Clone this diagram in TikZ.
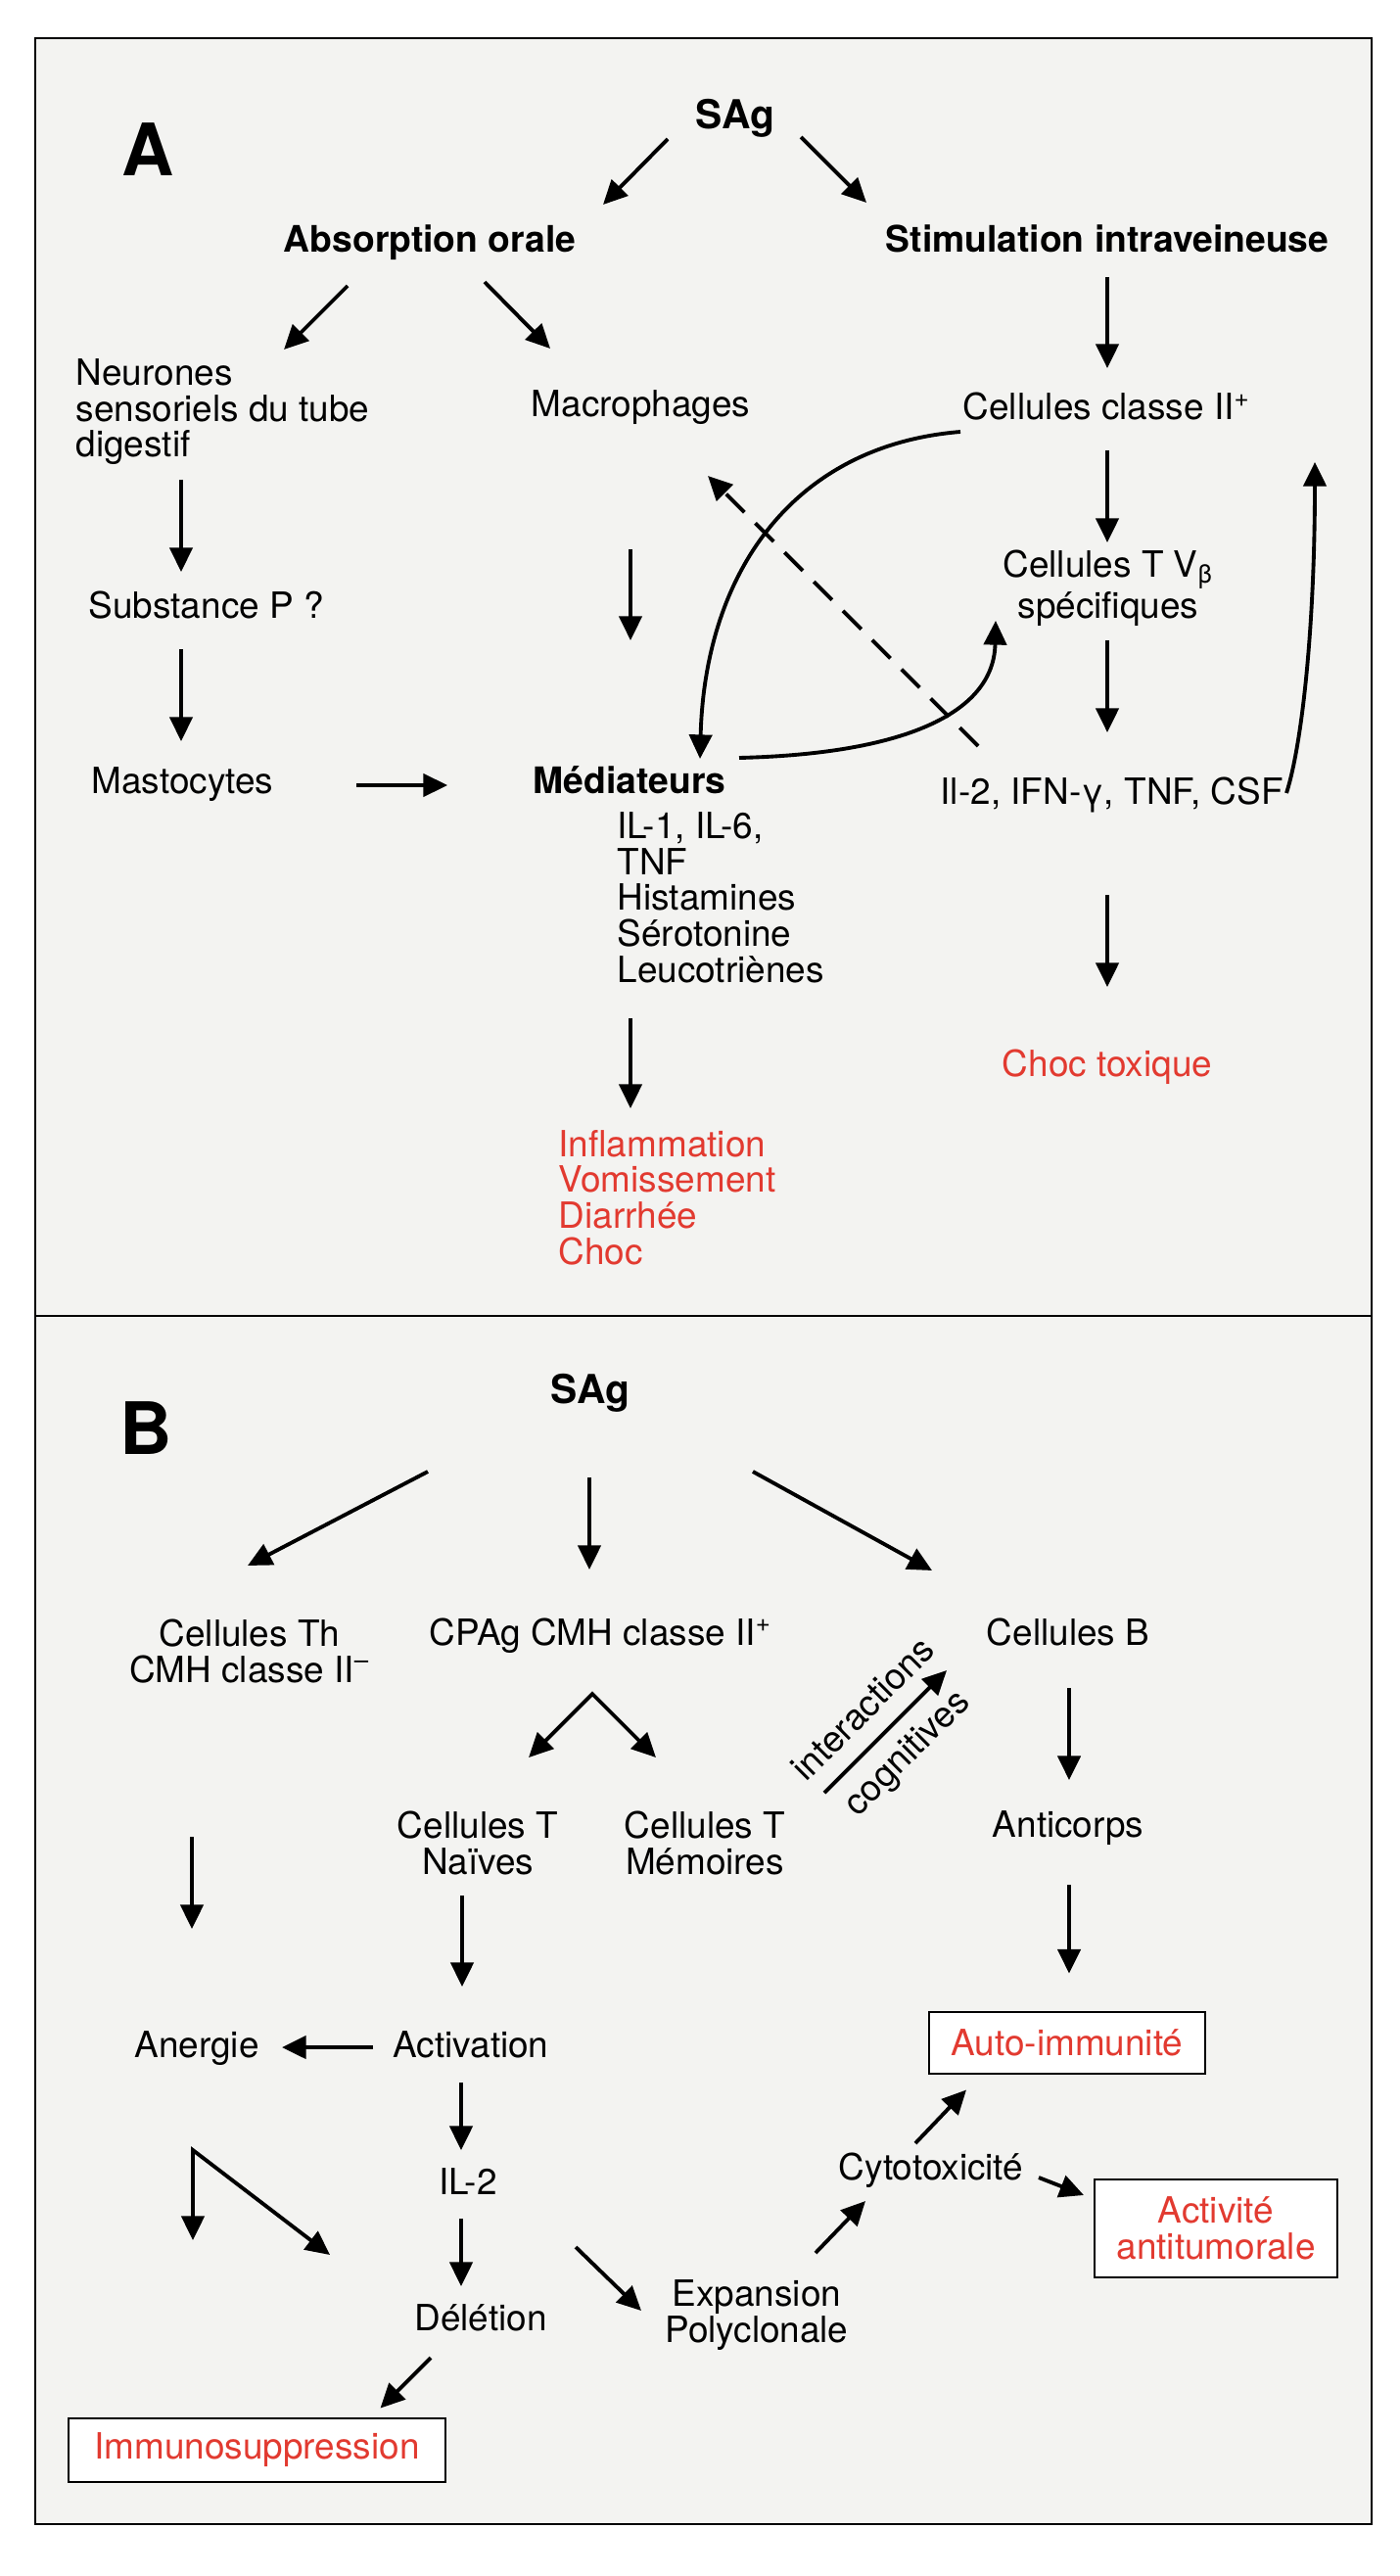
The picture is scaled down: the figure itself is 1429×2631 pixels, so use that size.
\documentclass[tikz,border=0pt]{standalone}
\usepackage{fontspec}
\setmainfont{TeX Gyre Heros}
\usetikzlibrary{arrows.meta,calc}
\definecolor{outred}{RGB}{226,58,48}
\definecolor{paper}{RGB}{243,243,241}
\begin{document}
\begin{tikzpicture}[x=0.01cm, y=-0.01cm,
    lbl/.style={inner sep=0pt, font=\fontsize{10.5}{10.4}\selectfont},
    hd/.style={inner sep=0pt, font=\fontsize{10.6}{10.4}\selectfont\bfseries},
    sag/.style={inner sep=0pt, font=\fontsize{11.6}{12}\selectfont\bfseries},
    panel/.style={inner sep=0pt, font=\fontsize{21}{21}\selectfont\bfseries},
    outcome/.style={lbl, text=outred},
    redbox/.style={outcome, draw=black, line width=0.5pt, fill=white},
    arr/.style={line width=1.1pt, -{Triangle[length=7pt, width=6.6pt]}},
    arrs/.style={line width=1.1pt, {Triangle[length=7pt, width=6.6pt]}-{Triangle[length=7pt, width=6.6pt]}}]

    \useasboundingbox (0,0) rectangle (1429,2631);
    \draw[line width=0.6pt, fill=paper] (36,39) rectangle (1401,2578);
    \draw[line width=0.6pt] (36,1344) -- (1401,1344);

    \node[panel, anchor=base west] (labelA) at (124,180) {A};
    \node[sag, anchor=base] (sagA) at (751,132) {SAg};
    \node[hd, anchor=base] (abs) at (439,258) {Absorption orale};
    \node[hd, anchor=base] (stim) at (1131,258) {Stimulation intraveineuse};
    \node[lbl, anchor=base west, align=left] (neur) at (77,467) {Neurones\\sensoriels du tube\\digestif};
    \node[lbl, anchor=base west] (macro) at (542,426) {Macrophages};
    \node[lbl, anchor=base west] (cellII) at (983,429) {Cellules classe II\textsuperscript{+}};
    \node[lbl, anchor=base west] (subst) at (90,632) {Substance P ?};
    \node[lbl, anchor=base, align=center] (cellT) at (1132,632) {Cellules T V\textsubscript{β}\\spécifiques};
    \node[lbl, anchor=base west] (mast) at (93,810) {Mastocytes};
    \node[hd, anchor=base west] (med) at (544,810) {Médiateurs};
    \node[lbl, anchor=base west, align=left] (medlist) at (630,1003) {IL-1, IL-6,\\TNF\\Histamines\\Sérotonine\\Leucotriènes};
    \node[lbl, anchor=base west] (cyto) at (960,821) {Il-2, IFN-γ, TNF, CSF};
    \node[outcome, anchor=base] (choc) at (1131,1099) {Choc toxique};
    \node[outcome, anchor=base west, align=left] (symp) at (570,1291) {Inflammation\\Vomissement\\Diarrhée\\Choc};

    \draw[arr] ($(sagA.base)+(-69,10)$) -- ($(abs.base)+(177,-49)$);
    \draw[arr] ($(sagA.base)+(67,8)$) -- ($(stim.base)+(-246,-51)$);
    \draw[arr] ($(abs.base)+(-84,34)$) -- ($(neur.base west)+(213,-110)$);
    \draw[arr] ($(abs.base)+(56,30)$) -- ($(macro.base west)+(20,-70)$);
    \draw[arr] ($(stim.base)+(0,25)$) -- ($(cellII.base west)+(148,-53)$);
    \draw[arr] ($(neur.base west)+(108,23)$) -- ($(subst.base west)+(95,-48)$);
    \draw[arr] ($(subst.base west)+(95,31)$) -- ($(mast.base west)+(92,-53)$);
    \draw[arr] ($(macro.base west)+(102,135)$) -- ($(med.base west)+(100,-156)$);
    \draw[arr] ($(mast.base west)+(271,-8)$) -- ($(med.base west)+(-87,-8)$);
    \draw[arr] ($(medlist.base west)+(14,37)$) -- ($(symp.base west)+(74,-159)$);
    \draw[arr] ($(cellII.base west)+(148,31)$) -- ($(cellT.base)+(-1,-78)$);
    \draw[arr] ($(cellT.base)+(-1,22)$) -- ($(cyto.base west)+(171,-73)$);
    \draw[arr] ($(cyto.base west)+(171,93)$) -- ($(choc.base)+(0,-91)$);
    \draw[arr] ($(cellII.base west)+(-2,12)$) .. controls +(-171,14) and +(5,-190) .. ($(med.base west)+(171,-35)$);
    \draw[arr] ($(med.base west)+(211,-36)$) .. controls +(165,-4) and +(-2,96) .. ($(cellT.base)+(-115,2)$);
    \draw[arr, dash pattern=on 7.5pt off 4.5pt] ($(cyto.base west)+(39,-59)$) -- ($(macro.base west)+(181,60)$);
    \draw[arr] ($(cyto.base west)+(354,-11)$) .. controls +(16,-50) and +(0,168) .. ($(cellII.base west)+(360,43)$);

    \node[panel, anchor=base west] (labelB) at (122,1485) {B};
    \node[sag, anchor=base] (sagB) at (603,1433) {SAg};
    \node[lbl, anchor=base, align=center] (th) at (255,1718) {Cellules Th\\CMH classe II\textsuperscript{–}};
    \node[lbl, anchor=base west] (cpag) at (438,1680) {CPAg CMH classe II\textsuperscript{+}};
    \node[lbl, anchor=base] (cellB) at (1091,1680) {Cellules B};
    \node[lbl, anchor=base, align=center] (naive) at (488,1914) {Cellules T\\Naïves};
    \node[lbl, anchor=base, align=center] (memo) at (720,1914) {Cellules T\\Mémoires};
    \node[lbl, anchor=base] (anti) at (1091,1876) {Anticorps};
    \node[lbl, anchor=base] (anerg) at (201,2101) {Anergie};
    \node[lbl, anchor=base] (activ) at (481,2101) {Activation};
    \node[lbl, anchor=base] (il2) at (478,2241) {IL-2};
    \node[lbl, anchor=base] (delet) at (491,2380) {Délétion};
    \node[lbl, anchor=base, align=center] (expan) at (773,2392) {Expansion\\Polyclonale};
    \node[lbl, anchor=base] (cytox) at (951,2226) {Cytotoxicité};
    \node[redbox, minimum width=2.825cm, minimum height=0.63cm] (auto) at (1090,2086.5) {Auto-immunité};
    \node[redbox, align=center, minimum width=2.484cm, minimum height=1cm] (activite) at (1242,2276) {Activité\\antitumorale};
    \node[redbox, minimum width=3.85cm, minimum height=0.65cm] (immuno) at (262.5,2502.5) {Immunosuppression};

    \draw[arr] ($(sagB.base)+(-166,70)$) -- ($(th.base)+(-2,-119)$);
    \draw[arr] ($(sagB.base)+(-1,76)$) -- ($(cpag.base west)+(164,-77)$);
    \draw[arr] ($(sagB.base)+(166,70)$) -- ($(cellB.base)+(-139,-76)$);
    \draw[arrs] ($(naive.base)+(52,-119)$) -- ($(cpag.base west)+(167,50)$) -- ($(memo.base)+(-50,-119)$);
    \draw[arr] ($(memo.base)+(122,-83)$) -- node[lbl, sloped, above=5pt] (inter) {interactions} node[lbl, sloped, below=4pt] (cogn) {cognitives} ($(cellB.base)+(-124,26)$);
    \draw[arr] ($(cellB.base)+(1,44)$) -- ($(anti.base)+(1,-58)$);
    \draw[arr] ($(anti.base)+(1,49)$) -- ($(auto)+(2,-71)$);
    \draw[arr] ($(th.base)+(-59,158)$) -- ($(anerg.base)+(-5,-131)$);
    \draw[arr] ($(naive.base)+(-16,22)$) -- ($(activ.base)+(-9,-72)$);
    \draw[arr] ($(activ.base)+(-100,-10)$) -- ($(anerg.base)+(87,-10)$);
    \draw[arr] ($(activ.base)+(-10,26)$) -- ($(il2.base)+(-7,-45)$);
    \draw[arr] ($(il2.base)+(-7,25)$) -- ($(delet.base)+(-20,-45)$);
    \draw[arrs] ($(anerg.base)+(-4,187)$) -- ($(anerg.base)+(-4,95)$) -- ($(delet.base)+(-154,-77)$);
    \draw[arr] ($(il2.base)+(110,54)$) -- ($(expan.base)+(-118,-32)$);
    \draw[arr] ($(delet.base)+(-51,28)$) -- ($(immuno)+(126,-43)$);
    \draw[arr] ($(expan.base)+(60,-91)$) -- ($(cytox.base)+(-67,22)$);
    \draw[arr] ($(cytox.base)+(-16,-37)$) -- ($(auto)+(-103,48)$);
    \draw[arr] ($(cytox.base)+(110,-2)$) -- ($(activite)+(-135,-34)$);
\end{tikzpicture}
\end{document}
